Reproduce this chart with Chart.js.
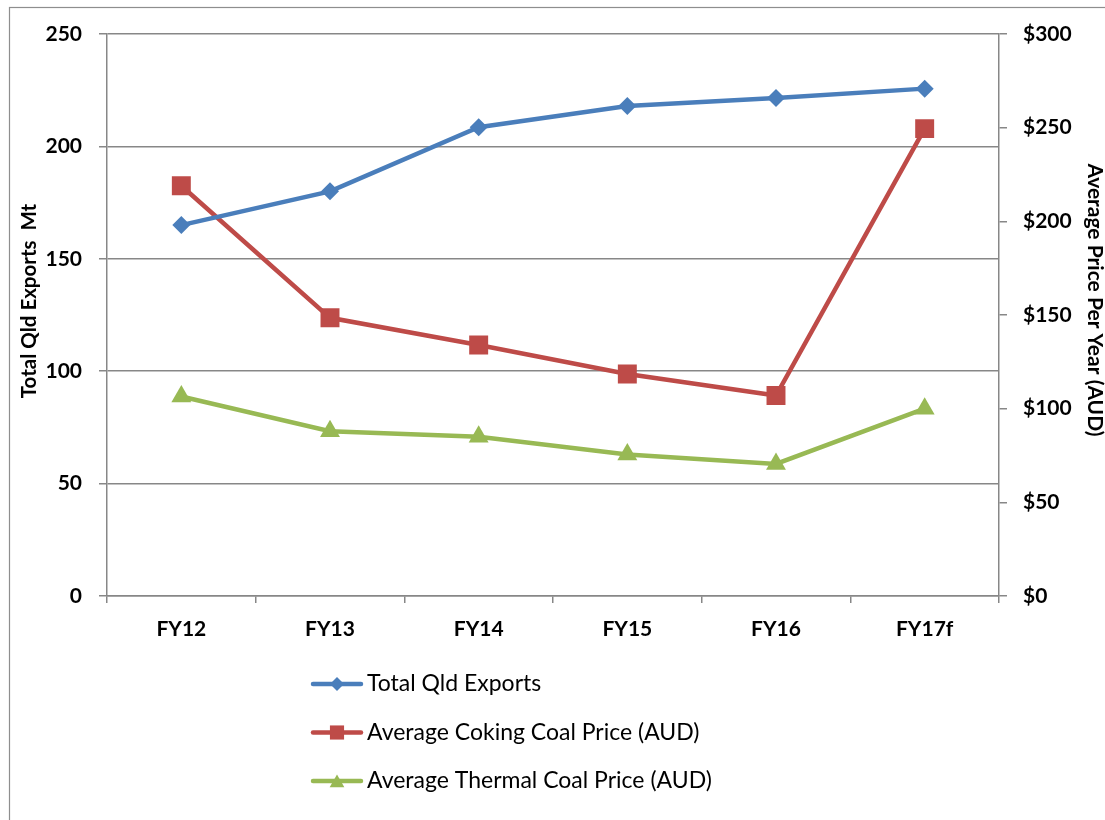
<!DOCTYPE html>
<html>
<head>
<meta charset="utf-8">
<script src="https://cdn.jsdelivr.net/npm/chart.js@4/dist/chart.umd.min.js"></script>
<style>
  html, body { margin: 0; padding: 0; background: #ffffff; }
  #wrap { width: 1105px; height: 820px; }
</style>
</head>
<body>
<div id="wrap"><canvas id="c" width="1105" height="820"></canvas></div>
<script>
// Financial years on the category axis
const years = ['FY12', 'FY13', 'FY14', 'FY15', 'FY16', 'FY17f'];

// Total Queensland coal exports (Mt), left axis
const totalExports = [165, 180, 208.5, 218, 221.5, 225.7];

// Average coal prices (AUD per tonne), right axis
const cokingPrice = [219, 148.5, 134, 118.5, 107, 249.5];
const thermalPrice = [106.5, 88, 85, 75.5, 70.5, 100];

const seriesNames = [
  'Total Qld Exports',
  'Average Coking Coal Price (AUD)',
  'Average Thermal Coal Price (AUD)'
];
const leftTitle = 'Total Qld Exports  Mt';
const rightTitle = 'Average Price Per Year (AUD)';

const FONT = 'Lato, "Open Sans", sans-serif';
const GRID = '#878787';
const BLUE = '#4A7EBB';
const RED = '#BE4B48';
const GREEN = '#98B954';

const tickFont = { family: FONT, size: 21, weight: 'bold' };

// Outer frame, rotated axis titles and the stacked legend
const decorations = {
  id: 'decorations',
  afterDraw(chart) {
    const ctx = chart.ctx;
    ctx.save();

    // frame around the whole chart
    ctx.strokeStyle = '#8e8e8e';
    ctx.lineWidth = 1.2;
    ctx.strokeRect(9.5, 7.5, 1300, 1000);

    // axis titles
    ctx.fillStyle = '#000';
    ctx.textAlign = 'center';
    ctx.textBaseline = 'middle';
    ctx.save();
    ctx.font = 'bold 20.5px ' + FONT;
    ctx.translate(29, 301);
    ctx.rotate(-Math.PI / 2);
    ctx.fillText(leftTitle, 0, 0);
    ctx.restore();
    ctx.save();
    ctx.font = 'bold 21px ' + FONT;
    ctx.translate(1095, 300);
    ctx.rotate(Math.PI / 2);
    ctx.fillText(rightTitle, 0, 0);
    ctx.restore();

    // legend: line sample with marker, then the series name
    const markerRadius = [7, 10, 8.5];
    chart.data.datasets.forEach((ds, i) => {
      const y = 684 + 48.5 * i;
      ctx.strokeStyle = ds.borderColor;
      ctx.lineWidth = 4.5;
      ctx.lineCap = 'round';
      ctx.beginPath();
      ctx.moveTo(313, y);
      ctx.lineTo(361, y);
      ctx.stroke();
      ctx.fillStyle = ds.backgroundColor;
      Chart.helpers.drawPoint(ctx, {
        pointStyle: ds.pointStyle,
        radius: markerRadius[i],
        rotation: 0,
        borderWidth: 0
      }, 337, i === 2 ? y + 2 : y);
      ctx.fillStyle = '#000';
      ctx.font = '23px ' + FONT;
      ctx.textAlign = 'left';
      ctx.textBaseline = 'middle';
      ctx.fillText(ds.label, 367, y);
    });

    ctx.restore();
  }
};

new Chart(document.getElementById('c'), {
  type: 'line',
  data: {
    labels: years,
    datasets: [
      {
        label: seriesNames[0],
        data: totalExports,
        yAxisID: 'y',
        borderColor: BLUE,
        backgroundColor: BLUE,
        borderWidth: 4.5,
        pointStyle: 'rectRot',
        pointRadius: 9,
        pointBorderWidth: 0,
        tension: 0
      },
      {
        label: seriesNames[1],
        data: cokingPrice,
        yAxisID: 'y1',
        borderColor: RED,
        backgroundColor: RED,
        borderWidth: 4.5,
        pointStyle: 'rect',
        pointRadius: 13.4,
        pointBorderWidth: 0,
        tension: 0
      },
      {
        label: seriesNames[2],
        data: thermalPrice,
        yAxisID: 'y1',
        borderColor: GREEN,
        backgroundColor: GREEN,
        borderWidth: 4.5,
        pointStyle: 'triangle',
        pointRadius: 11.5,
        pointBorderWidth: 0,
        tension: 0
      }
    ]
  },
  options: {
    responsive: false,
    animation: false,
    devicePixelRatio: 1,
    layout: { padding: { top: 34, right: 0, bottom: 0, left: 0 } },
    plugins: {
      legend: { display: false },
      tooltip: { enabled: false }
    },
    scales: {
      x: {
        offset: true,
        grid: {
          offset: true,
          drawOnChartArea: false,
          drawTicks: true,
          tickLength: 7,
          color: GRID,
          lineWidth: 1.5
        },
        border: { color: GRID, width: 1.5 },
        ticks: { font: tickFont, color: '#000', padding: 14, maxRotation: 0 },
        afterFit(scale) { scale.height = 820 - 596; }
      },
      y: {
        position: 'left',
        min: 0,
        max: 250,
        ticks: { stepSize: 50, font: tickFont, color: '#000', padding: 17 },
        grid: { color: GRID, lineWidth: 1.5, tickLength: 8 },
        border: { color: GRID, width: 1.5 },
        afterFit(scale) { scale.width = 107; }
      },
      y1: {
        position: 'right',
        min: 0,
        max: 300,
        ticks: {
          stepSize: 50,
          font: tickFont,
          color: '#000',
          padding: 16,
          callback: v => '$' + v
        },
        grid: { drawOnChartArea: false, color: GRID, lineWidth: 1.5, tickLength: 8 },
        border: { color: GRID, width: 1.5 },
        afterFit(scale) { scale.width = 106; }
      }
    }
  },
  plugins: [decorations]
});
</script>
</body>
</html>
